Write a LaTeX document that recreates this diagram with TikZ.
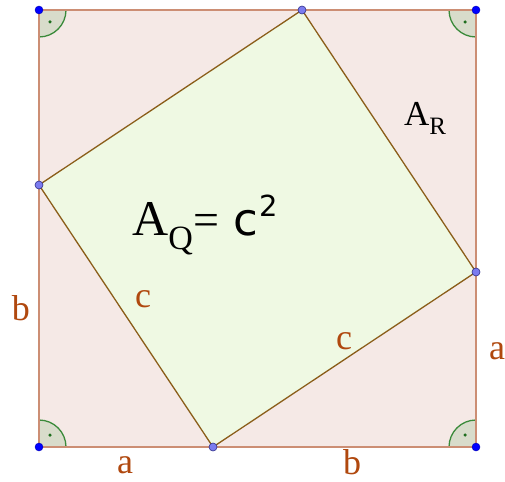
\documentclass[tikz,border=0pt]{standalone}
\usepackage{fontspec}
\setmainfont{Liberation Serif}
\newfontfamily\cfont{DejaVu Sans}
\definecolor{outerfill}{HTML}{F5E9E6}
\definecolor{innerfill}{HTML}{EFF9E3}
\definecolor{outerline}{HTML}{CC8E74}
\definecolor{innerline}{HTML}{8B5E1A}
\definecolor{anglefill}{HTML}{D8DCCB}
\definecolor{anglearc}{HTML}{3A8A3A}
\definecolor{anglept}{HTML}{1E6E1E}
\definecolor{lbl}{HTML}{B0480E}
\definecolor{vpt}{HTML}{7B7BEF}
\definecolor{vptline}{HTML}{30308A}
\begin{document}
\begin{tikzpicture}[x=1pt,y=-1pt,
  lab/.style={text=lbl,font=\fontsize{36}{36}\selectfont,inner sep=0pt},
  cornerpt/.style={circle,fill=blue,draw=blue!70!black,inner sep=0pt,minimum size=8pt},
  vertpt/.style={circle,fill=vpt,draw=vptline,line width=0.6pt,inner sep=0pt,minimum size=8pt},
  angarc/.style={anglearc,line width=1.3pt},
  angdot/.style={circle,fill=anglept,inner sep=0pt,minimum size=3.5pt}]
\useasboundingbox (0,0) rectangle (505,481);
% outer square corners
\coordinate (TL) at (39,10);
\coordinate (TR) at (476,10);
\coordinate (BR) at (476,447);
\coordinate (BL) at (39,447);
% inner vertices
\coordinate (T) at (302,10);
\coordinate (R) at (476,272);
\coordinate (B) at (213,447);
\coordinate (L) at (39,185);
\fill[outerfill] (TL) -- (TR) -- (BR) -- (BL) -- cycle;
% angle marks
\fill[anglefill] (TL) -- ++(27,0) arc[start angle=0,end angle=90,radius=27] -- cycle;
\fill[anglefill] (TR) -- ++(-27,0) arc[start angle=180,end angle=90,radius=27] -- cycle;
\fill[anglefill] (BR) -- ++(-27,0) arc[start angle=180,end angle=270,radius=27] -- cycle;
\fill[anglefill] (BL) -- ++(27,0) arc[start angle=0,end angle=-90,radius=27] -- cycle;
\draw[angarc] ([xshift=27pt]TL) arc[start angle=0,end angle=90,radius=27];
\draw[angarc] ([xshift=-27pt]TR) arc[start angle=180,end angle=90,radius=27];
\draw[angarc] ([xshift=-27pt]BR) arc[start angle=180,end angle=270,radius=27];
\draw[angarc] ([xshift=27pt]BL) arc[start angle=0,end angle=-90,radius=27];
\node[angdot] (d1) at (50,22) {};
\node[angdot] (d2) at (465,22) {};
\node[angdot] (d3) at (465,435) {};
\node[angdot] (d4) at (50,435) {};
% inner square
\filldraw[fill=innerfill,draw=innerline,line width=1.3pt] (T) -- (R) -- (B) -- (L) -- cycle;
% outer border
\draw[outerline,line width=1.3pt] (TL) -- (TR) -- (BR) -- (BL) -- cycle;
% points
\node[cornerpt] (pTL) at (TL) {};
\node[cornerpt] (pTR) at (TR) {};
\node[cornerpt] (pBR) at (BR) {};
\node[cornerpt] (pBL) at (BL) {};
\node[vertpt] (pT) at (T) {};
\node[vertpt] (pR) at (R) {};
\node[vertpt] (pB) at (B) {};
\node[vertpt] (pL) at (L) {};
% labels
\node[lab,anchor=base] (lb1) at (21,320) {b};
\node[lab,anchor=base] (lc1) at (143,307) {c};
\node[lab,anchor=base] (lc2) at (344,349) {c};
\node[lab,anchor=base] (la1) at (497,359) {a};
\node[lab,anchor=base] (la2) at (125,473) {a};
\node[lab,anchor=base] (lb2) at (352,474) {b};
\node[anchor=base west,inner sep=0pt] (AR) at (404,126)
  {\fontsize{35}{35}\selectfont A\raisebox{-9pt}{\fontsize{25}{25}\selectfont R}};
\node[anchor=base west,inner sep=0pt] (AQ) at (132,235)
  {\fontsize{50}{50}\selectfont A\raisebox{-14pt}{\fontsize{34}{34}\selectfont Q}\kern1pt{\fontsize{46}{46}\selectfont=}\kern14pt{\cfont\fontsize{45}{45}\selectfont c\kern0.5pt\raisebox{19pt}{\fontsize{29}{29}\selectfont 2}}};
\end{tikzpicture}
\end{document}
